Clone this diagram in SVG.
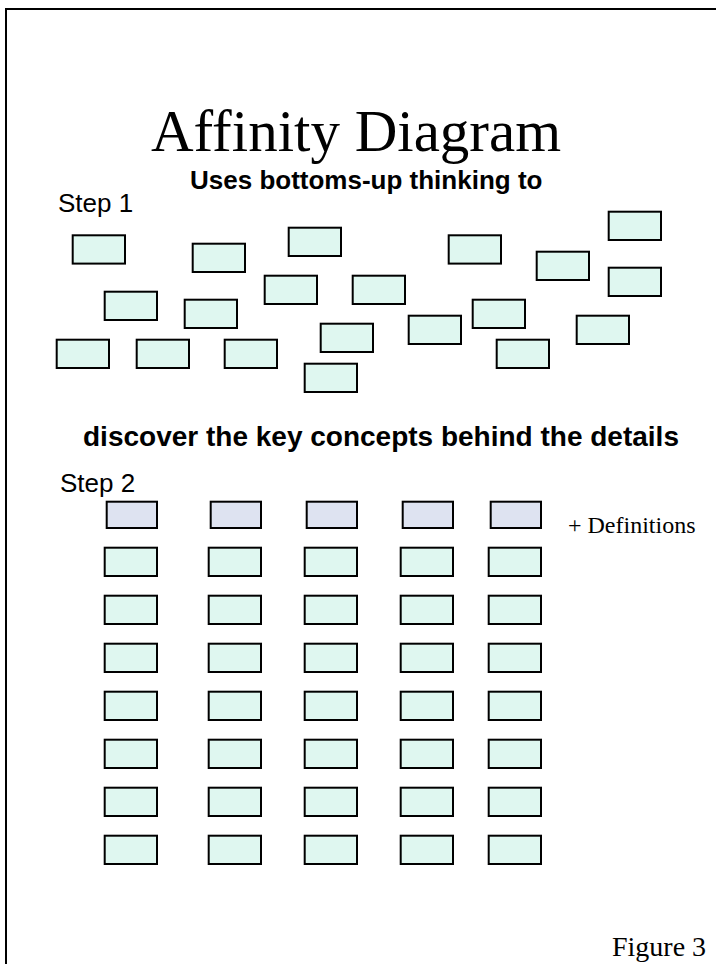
<svg xmlns="http://www.w3.org/2000/svg" width="716" height="964" viewBox="0 0 716 964">
<style>
.card{fill:#DFF7F0;stroke:#000;stroke-width:2}
.head{fill:#DEE3F1;stroke:#000;stroke-width:2}
.serif{font-family:"Liberation Serif","Times New Roman",serif;fill:#000}
.sans{font-family:"Liberation Sans",Arial,sans-serif;fill:#000}
.bold{font-weight:bold}
</style>
<rect width="716" height="964" fill="#fff"/>
<path d="M6,964 V9 H716" fill="none" stroke="#000" stroke-width="2"/>
<text class="serif" x="356" y="151" font-size="59" text-anchor="middle">Affinity Diagram</text>
<text class="sans bold" x="190" y="189" font-size="26">Uses bottoms-up thinking to</text>
<text class="sans" x="58" y="212" font-size="26">Step 1</text>
<g id="step1">
<rect id="s1a" class="card" x="72.7" y="235.3" width="52.3" height="28.3"/>
<rect id="s1b" class="card" x="192.7" y="243.7" width="52.3" height="28.3"/>
<rect id="s1c" class="card" x="288.7" y="227.7" width="52.3" height="28.3"/>
<rect id="s1d" class="card" x="104.7" y="291.7" width="52.3" height="28.3"/>
<rect id="s1e" class="card" x="184.7" y="299.7" width="52.3" height="28.3"/>
<rect id="s1f" class="card" x="264.7" y="275.7" width="52.3" height="28.3"/>
<rect id="s1g" class="card" x="352.7" y="275.7" width="52.3" height="28.3"/>
<rect id="s1h" class="card" x="56.7" y="339.7" width="52.3" height="28.3"/>
<rect id="s1i" class="card" x="136.7" y="339.7" width="52.3" height="28.3"/>
<rect id="s1j" class="card" x="224.7" y="339.7" width="52.3" height="28.3"/>
<rect id="s1k" class="card" x="320.7" y="323.7" width="52.3" height="28.3"/>
<rect id="s1l" class="card" x="304.7" y="363.7" width="52.3" height="28.3"/>
<rect id="s1m" class="card" x="448.7" y="235.3" width="52.3" height="28.3"/>
<rect id="s1n" class="card" x="536.7" y="251.7" width="52.3" height="28.3"/>
<rect id="s1o" class="card" x="608.7" y="211.7" width="52.3" height="28.3"/>
<rect id="s1p" class="card" x="608.7" y="267.7" width="52.3" height="28.3"/>
<rect id="s1q" class="card" x="472.7" y="299.7" width="52.3" height="28.3"/>
<rect id="s1r" class="card" x="408.7" y="315.7" width="52.3" height="28.3"/>
<rect id="s1s" class="card" x="576.7" y="315.7" width="52.3" height="28.3"/>
<rect id="s1t" class="card" x="496.7" y="339.7" width="52.3" height="28.3"/>
</g>
<text class="sans bold" x="83" y="446" font-size="28">discover the key concepts behind the details</text>
<text class="sans" x="60" y="492" font-size="26">Step 2</text>
<g id="headers">
<rect class="head" x="106.7" y="501.7" width="50.3" height="26.3"/>
<rect class="head" x="210.7" y="501.7" width="50.3" height="26.3"/>
<rect class="head" x="306.7" y="501.7" width="50.3" height="26.3"/>
<rect class="head" x="402.7" y="501.7" width="50.3" height="26.3"/>
<rect class="head" x="490.7" y="501.7" width="50.3" height="26.3"/>
</g>
<text class="serif" x="568" y="533" font-size="24">+ Definitions</text>
<g id="grid">
<g id="row1"><rect class="card" x="104.7" y="547.7" width="52.3" height="28.3"/><rect class="card" x="208.7" y="547.7" width="52.3" height="28.3"/><rect class="card" x="304.7" y="547.7" width="52.3" height="28.3"/><rect class="card" x="400.7" y="547.7" width="52.3" height="28.3"/><rect class="card" x="488.7" y="547.7" width="52.3" height="28.3"/></g>
<g id="row2"><rect class="card" x="104.7" y="595.7" width="52.3" height="28.3"/><rect class="card" x="208.7" y="595.7" width="52.3" height="28.3"/><rect class="card" x="304.7" y="595.7" width="52.3" height="28.3"/><rect class="card" x="400.7" y="595.7" width="52.3" height="28.3"/><rect class="card" x="488.7" y="595.7" width="52.3" height="28.3"/></g>
<g id="row3"><rect class="card" x="104.7" y="643.7" width="52.3" height="28.3"/><rect class="card" x="208.7" y="643.7" width="52.3" height="28.3"/><rect class="card" x="304.7" y="643.7" width="52.3" height="28.3"/><rect class="card" x="400.7" y="643.7" width="52.3" height="28.3"/><rect class="card" x="488.7" y="643.7" width="52.3" height="28.3"/></g>
<g id="row4"><rect class="card" x="104.7" y="691.7" width="52.3" height="28.3"/><rect class="card" x="208.7" y="691.7" width="52.3" height="28.3"/><rect class="card" x="304.7" y="691.7" width="52.3" height="28.3"/><rect class="card" x="400.7" y="691.7" width="52.3" height="28.3"/><rect class="card" x="488.7" y="691.7" width="52.3" height="28.3"/></g>
<g id="row5"><rect class="card" x="104.7" y="739.7" width="52.3" height="28.3"/><rect class="card" x="208.7" y="739.7" width="52.3" height="28.3"/><rect class="card" x="304.7" y="739.7" width="52.3" height="28.3"/><rect class="card" x="400.7" y="739.7" width="52.3" height="28.3"/><rect class="card" x="488.7" y="739.7" width="52.3" height="28.3"/></g>
<g id="row6"><rect class="card" x="104.7" y="787.7" width="52.3" height="28.3"/><rect class="card" x="208.7" y="787.7" width="52.3" height="28.3"/><rect class="card" x="304.7" y="787.7" width="52.3" height="28.3"/><rect class="card" x="400.7" y="787.7" width="52.3" height="28.3"/><rect class="card" x="488.7" y="787.7" width="52.3" height="28.3"/></g>
<g id="row7"><rect class="card" x="104.7" y="835.7" width="52.3" height="28.3"/><rect class="card" x="208.7" y="835.7" width="52.3" height="28.3"/><rect class="card" x="304.7" y="835.7" width="52.3" height="28.3"/><rect class="card" x="400.7" y="835.7" width="52.3" height="28.3"/><rect class="card" x="488.7" y="835.7" width="52.3" height="28.3"/></g>
</g>
<text class="serif" x="612" y="956" font-size="28">Figure 3</text>
</svg>
